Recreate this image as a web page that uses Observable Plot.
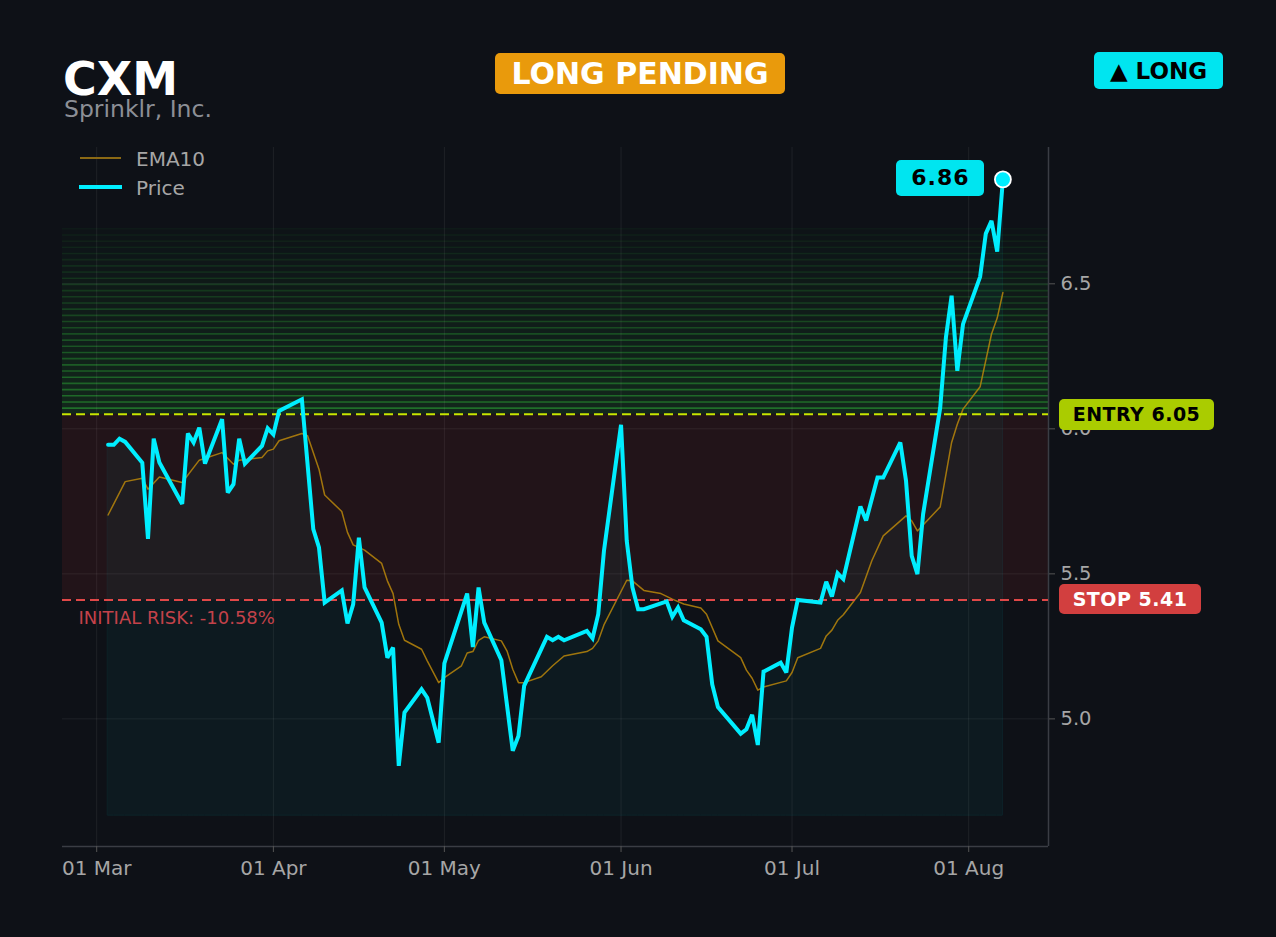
<!DOCTYPE html>
<html>
<head>
<meta charset="utf-8">
<script src="https://cdn.jsdelivr.net/npm/d3@7"></script>
<script src="https://cdn.jsdelivr.net/npm/@observablehq/plot@0.6"></script>
<style>
  html, body { margin: 0; padding: 0; background: #0e1117; }
  body { font-family: "DejaVu Sans", sans-serif; }
  #wrap { position: relative; width: 1276px; height: 937px; overflow: hidden; background: #0e1117; }
  #wrap svg { position: absolute; left: 0; top: 0; }
  .ov { position: absolute; white-space: nowrap; }
  .badge { position: absolute; display: flex; align-items: center; justify-content: center; border-radius: 5px; font-weight: bold; white-space: nowrap; }
</style>
</head>
<body>
<div id="wrap"></div>
<script>
// ---------- data ----------
const ticker = "CXM";
const company = "Sprinklr, Inc.";
const signal = "LONG PENDING";
const direction = "▲ LONG";
const entry = 6.05;
const stop = 5.41;
const target = 6.69;

const priceDates = [
  "2026-03-03","2026-03-04","2026-03-05","2026-03-06","2026-03-09","2026-03-10","2026-03-11","2026-03-12",
  "2026-03-16","2026-03-17","2026-03-18","2026-03-19","2026-03-20","2026-03-23","2026-03-24","2026-03-25",
  "2026-03-26","2026-03-27","2026-03-30","2026-03-31","2026-04-01","2026-04-02","2026-04-06","2026-04-08",
  "2026-04-09","2026-04-10","2026-04-13","2026-04-14","2026-04-15","2026-04-16","2026-04-17","2026-04-20",
  "2026-04-21","2026-04-22","2026-04-23","2026-04-24","2026-04-27","2026-04-28","2026-04-30","2026-05-01",
  "2026-05-05","2026-05-06","2026-05-07","2026-05-08","2026-05-11","2026-05-13","2026-05-14","2026-05-15",
  "2026-05-19","2026-05-20","2026-05-21","2026-05-22","2026-05-26","2026-05-27","2026-05-28","2026-05-29",
  "2026-06-01","2026-06-02","2026-06-03","2026-06-04","2026-06-05","2026-06-09","2026-06-10","2026-06-11",
  "2026-06-12","2026-06-15","2026-06-16","2026-06-17","2026-06-18","2026-06-22","2026-06-23","2026-06-24",
  "2026-06-25","2026-06-26","2026-06-29","2026-06-30","2026-07-01","2026-07-02","2026-07-06","2026-07-07",
  "2026-07-08","2026-07-09","2026-07-10","2026-07-13","2026-07-14","2026-07-16","2026-07-17","2026-07-20",
  "2026-07-21","2026-07-22","2026-07-23","2026-07-24","2026-07-27","2026-07-28","2026-07-29","2026-07-30",
  "2026-07-31","2026-08-03","2026-08-04","2026-08-05","2026-08-06","2026-08-07"
];
const priceValues = [
  5.945,5.945,5.966,5.955,5.883,5.621,5.966,5.884,
  5.741,5.984,5.953,6.004,5.880,6.033,5.780,5.809,
  5.966,5.880,5.941,6.002,5.981,6.062,6.102,5.654,
  5.591,5.401,5.443,5.329,5.395,5.625,5.453,5.332,
  5.211,5.246,4.838,5.022,5.102,5.073,4.918,5.191,
  5.432,5.248,5.453,5.332,5.202,4.890,4.941,5.114,
  5.283,5.271,5.283,5.271,5.303,5.278,5.361,5.579,
  6.014,5.614,5.453,5.378,5.378,5.405,5.352,5.384,
  5.340,5.309,5.283,5.119,5.041,4.949,4.964,5.014,
  4.910,5.163,5.194,5.160,5.315,5.410,5.401,5.473,
  5.422,5.502,5.482,5.732,5.684,5.832,5.832,5.953,
  5.821,5.562,5.499,5.706,6.073,6.315,6.459,6.200,
  6.361,6.524,6.673,6.717,6.611,6.860
];

const emaDates = [
  "2026-03-03","2026-03-06","2026-03-09","2026-03-10","2026-03-12","2026-03-16","2026-03-19","2026-03-23",
  "2026-03-25","2026-03-26","2026-03-30","2026-03-31","2026-04-01","2026-04-02","2026-04-06","2026-04-07",
  "2026-04-09","2026-04-10","2026-04-13","2026-04-14","2026-04-15","2026-04-17","2026-04-20","2026-04-21",
  "2026-04-22","2026-04-23","2026-04-24","2026-04-27","2026-04-28","2026-04-30","2026-05-01","2026-05-04",
  "2026-05-05","2026-05-06","2026-05-07","2026-05-08","2026-05-11","2026-05-12","2026-05-13","2026-05-14",
  "2026-05-15","2026-05-18","2026-05-20","2026-05-22","2026-05-26","2026-05-27","2026-05-28","2026-05-29",
  "2026-06-02","2026-06-03","2026-06-05","2026-06-08","2026-06-10","2026-06-12","2026-06-15","2026-06-16",
  "2026-06-18","2026-06-22","2026-06-23","2026-06-24","2026-06-25","2026-06-26","2026-06-30","2026-07-01",
  "2026-07-02","2026-07-06","2026-07-07","2026-07-08","2026-07-09","2026-07-10","2026-07-13","2026-07-15",
  "2026-07-17","2026-07-21","2026-07-22","2026-07-23","2026-07-27","2026-07-29","2026-07-30","2026-07-31",
  "2026-08-03","2026-08-05","2026-08-06","2026-08-07"
];
const emaValues = [
  5.703,5.818,5.830,5.792,5.834,5.815,5.892,5.918,
  5.878,5.892,5.901,5.924,5.930,5.959,5.984,5.976,
  5.861,5.772,5.715,5.643,5.600,5.582,5.536,5.476,
  5.432,5.326,5.271,5.240,5.200,5.125,5.142,5.183,
  5.227,5.232,5.271,5.283,5.269,5.234,5.171,5.125,
  5.125,5.145,5.183,5.217,5.232,5.243,5.269,5.324,
  5.478,5.476,5.443,5.432,5.413,5.396,5.382,5.361,
  5.269,5.211,5.168,5.140,5.099,5.110,5.131,5.160,
  5.211,5.243,5.286,5.306,5.340,5.359,5.436,5.545,
  5.631,5.700,5.683,5.648,5.731,5.953,6.016,6.068,
  6.145,6.327,6.382,6.470
];

const monthTicks = ["2026-03-01","2026-04-01","2026-05-01","2026-06-01","2026-07-01","2026-08-01"];
const yTicks = [5.0, 5.5, 6.0, 6.5];
const xDomain = ["2026-02-23", "2026-08-15"];
const yDomain = [4.56, 6.97];
const areaBase = 4.666;

// ---------- build ----------
const parse = s => new Date(s + "T00:00:00Z");
const price = priceDates.map((d, i) => ({date: parse(d), value: priceValues[i]}));
const ema = emaDates.map((d, i) => ({date: parse(d), value: emaValues[i]}));
const xStart = parse(xDomain[0]), xEnd = parse(xDomain[1]);
const ticksX = monthTicks.map(parse);
const last = price[price.length - 1];

const CYAN = "#00e5f0";
const LINE = "#00eeff";
const nBands = 30;
const bands = d3.range(nBands).map(i => {
  const h = (target - entry) / nBands;
  const t = i / nBands;
  return {x1: xStart, x2: xEnd, y1: entry + i * h, y2: entry + (i + 1) * h, op: 0.12 * (1 - t) + 0.01, lop: 0.42 * (1 - t) + 0.03};
});
const riskZone = [{x1: xStart, x2: xEnd, y1: stop, y2: entry}];
const riskPct = ((stop - entry) / entry * 100).toFixed(2);

const chart = Plot.plot({
  width: 1276,
  height: 937,
  marginTop: 147,
  marginBottom: 91,
  marginLeft: 62,
  marginRight: 228,
  style: {background: "transparent", color: "#a6a6a6", fontFamily: "DejaVu Sans", fontSize: "20px", overflow: "visible"},
  x: {type: "utc", domain: [xStart, xEnd]},
  y: {domain: yDomain},
  marks: [
    Plot.rect(bands, {x1: "x1", x2: "x2", y1: "y1", y2: "y2", fill: "#2fbf3a", fillOpacity: d => d.op}),
    Plot.ruleY(bands, {y: "y2", stroke: "#32c83c", strokeOpacity: d => d.lop, strokeWidth: 1.6}),
    Plot.rect(riskZone, {x1: "x1", x2: "x2", y1: "y1", y2: "y2", fill: "#dc3232", fillOpacity: 0.1}),
    Plot.gridX(ticksX, {stroke: "#ffffff", strokeOpacity: 0.07}),
    Plot.gridY(yTicks, {stroke: "#ffffff", strokeOpacity: 0.07}),
    Plot.areaY(price, {x: "date", y1: areaBase, y2: "value", fill: CYAN, fillOpacity: 0.045, stroke: CYAN, strokeOpacity: 0.07, strokeWidth: 1}),
    Plot.ruleY([yDomain[0]], {stroke: "#3a3d44", strokeWidth: 1.5}),
    Plot.ruleX([xEnd], {stroke: "#3a3d44", strokeWidth: 1.5}),
    Plot.axisX({ticks: ticksX, tickFormat: d3.utcFormat("%d %b"), tickSize: 6, tickPadding: 8, stroke: "#555", fill: "#a6a6a6", fontSize: 20, label: null}),
    Plot.axisY({anchor: "right", ticks: yTicks, tickFormat: d3.format(".1f"), tickSize: 6, tickPadding: 6, stroke: "#555", fill: "#a6a6a6", fontSize: 19.5, label: null}),
    Plot.line(ema, {x: "date", y: "value", stroke: "#b8860b", strokeWidth: 1.5, strokeOpacity: 0.85}),
    Plot.ruleY([entry], {stroke: "#c8e600", strokeWidth: 2, strokeDasharray: "9,5"}),
    Plot.ruleY([stop], {stroke: "#e04848", strokeWidth: 2, strokeDasharray: "9,5"}),
    Plot.text([{x: xStart, y: stop, t: `INITIAL RISK: ${riskPct}%`}], {x: "x", y: "y", text: "t", dx: 16, dy: 18, textAnchor: "start", fill: "#c4424a", fontSize: 18}),
    Plot.line(price, {x: "date", y: "value", stroke: LINE, strokeWidth: 4, strokeLinejoin: "miter", strokeMiterlimit: 3}),
    Plot.dot([last], {x: "date", y: "value", r: 8, fill: LINE, stroke: "#ffffff", strokeWidth: 1.8})
  ]
});

const wrap = document.getElementById("wrap");
wrap.appendChild(chart);

const sx = chart.scale("x"), sy = chart.scale("y");
const xRight = sx.range[1];

function add(html, css, cls) {
  const el = document.createElement("div");
  el.className = cls || "ov";
  el.innerHTML = html;
  Object.assign(el.style, css);
  wrap.appendChild(el);
  return el;
}

// header
add(ticker, {left: "63px", top: "52px", fontSize: "46px", fontWeight: "bold", color: "#ffffff", lineHeight: "54px"});
add(company, {left: "64px", top: "94px", fontSize: "23.5px", color: "#8c8f96", lineHeight: "30px"});
add(signal, {left: "495px", top: "53px", width: "290px", height: "41px", background: "#e99a0c", color: "#ffffff", fontSize: "30px"}, "badge");
add(direction, {left: "1094px", top: "52px", width: "129px", height: "37px", background: CYAN, color: "#000000", fontSize: "23px"}, "badge");

// legend
add("", {left: "80px", top: "157px", width: "41px", height: "2px", background: "#8b6914"});
add("EMA10", {left: "136px", top: "146px", fontSize: "20px", color: "#a6a6a6", lineHeight: "26px"});
add("", {left: "79px", top: "185px", width: "43px", height: "4px", background: LINE});
add("Price", {left: "136px", top: "175px", fontSize: "20px", color: "#a6a6a6", lineHeight: "26px"});

// last price label
const lx = sx.apply(last.date), ly = sy.apply(last.value);
add(last.value.toFixed(2), {left: (lx - 106) + "px", top: (ly - 19) + "px", width: "88px", height: "36px", background: CYAN, color: "#000000", fontSize: "22px", letterSpacing: "1px"}, "badge");

// entry / stop labels
const ey = sy.apply(entry), ty = sy.apply(stop);
add(`ENTRY ${entry.toFixed(2)}`, {left: (xRight + 11) + "px", top: (ey - 15) + "px", width: "155px", height: "31px", background: "#aacc00", color: "#000000", fontSize: "19px", letterSpacing: "0.5px"}, "badge");
add(`STOP ${stop.toFixed(2)}`, {left: (xRight + 11) + "px", top: (ty - 15) + "px", width: "142px", height: "30px", background: "#d23f3f", color: "#ffffff", fontSize: "19px", letterSpacing: "0.5px"}, "badge");
</script>
</body>
</html>
